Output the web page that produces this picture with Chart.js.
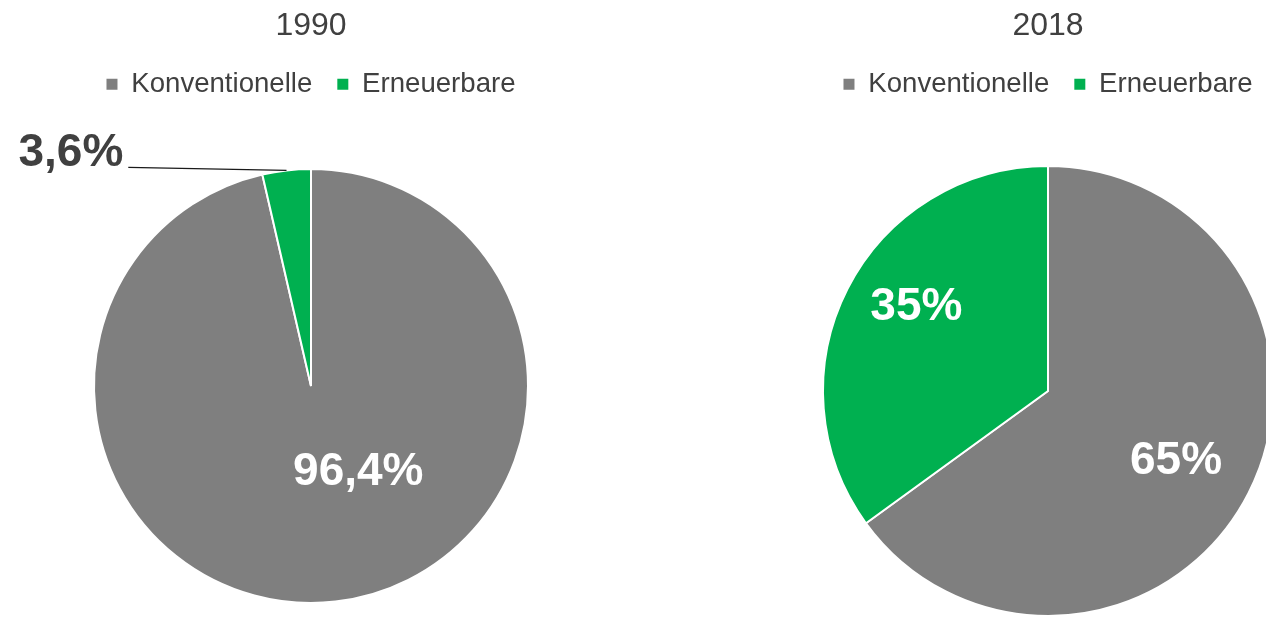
<!DOCTYPE html>
<html lang="de">
<head>
  <meta charset="UTF-8"/>
  <title>Stromerzeugung 1990 / 2018</title>
  <script src="https://cdn.jsdelivr.net/npm/chart.js"></script>
  <style>
    html, body {
      margin: 0;
      padding: 0;
      background: #fff;
      overflow: hidden;
    }
    .bühne {
      position: relative;
      width: 1266px;
      height: 618px;
      overflow: hidden;
    }
    canvas {
      position: absolute;
      top: 0;
    }
    #chart1990 { left: 0; width: 622px; height: 664px; }
    #chart2018 { left: 622px; width: 852px; height: 674px; }
  </style>
</head>
<body>
  <div class="bühne">
    <canvas id="chart1990" width="622" height="664"></canvas>
    <canvas id="chart2018" width="852" height="674"></canvas>
  </div>

  <script>
    // Daten
    const kategorien = ["Konventionelle", "Erneuerbare"];
    const jahre      = ["1990", "2018"];
    const werte1990  = [96.4, 3.6];
    const werte2018  = [65, 35];

    const farben    = ["#7f7f7f", "#00b050"];
    const textFarbe = "#404040";
    const schrift   = "'Liberation Sans', Arial, sans-serif";

    // Lage der Beschriftungen, relativ zum Kreismittelpunkt in Radien
    const lage1990 = [
      { dx: 0.218, dy: 0.398, farbe: "#fff", align: "center" },
      { dx: -0.865, dy: -1.074, farbe: textFarbe, align: "right", linie: true }
    ];
    const lage2018 = [
      { dx: 0.569, dy: 0.314, farbe: "#fff", align: "center" },
      { dx: -0.585, dy: -0.373, farbe: "#fff", align: "center" }
    ];

    const formatProzent = v => String(v).replace(".", ",") + "%";

    const beschriftung = {
      id: "beschriftung",
      afterDatasetsDraw(chart, args, opts) {
        const ctx = chart.ctx;
        const meta = chart.getDatasetMeta(0);
        const werte = chart.data.datasets[0].data;
        ctx.save();
        ctx.font = "bold 46px " + schrift;
        ctx.textBaseline = "middle";
        meta.data.forEach((arc, i) => {
          const l = opts.lage[i];
          const r = arc.outerRadius;
          const x = arc.x + l.dx * r;
          const y = arc.y + l.dy * r;
          ctx.fillStyle = l.farbe;
          ctx.textAlign = l.align;
          ctx.fillText(formatProzent(werte[i]), x, y);
          if (l.linie) {
            // Führungslinie vom Text zum Kreisrand
            const mitte = (arc.startAngle + arc.endAngle) / 2;
            ctx.beginPath();
            ctx.strokeStyle = "#1a1a1a";
            ctx.lineWidth = 1.3;
            ctx.moveTo(x + 5, y + 14.5);
            ctx.lineTo(arc.x + Math.cos(mitte) * r, arc.y + Math.sin(mitte) * r);
            ctx.stroke();
          }
        });
        ctx.restore();
      }
    };

    function tortenDiagramm(id, jahr, werte, radius, lage) {
      return new Chart(document.getElementById(id), {
        type: "pie",
        data: {
          labels: kategorien,
          datasets: [{
            data: werte,
            backgroundColor: farben,
            borderColor: "#fff",
            borderWidth: 2,
            radius: radius
          }]
        },
        options: {
          responsive: false,
          animation: false,
          events: [],
          layout: { padding: 0 },
          plugins: {
            title: {
              display: true,
              text: jahr,
              color: textFarbe,
              font: { family: schrift, size: 32, weight: "normal", lineHeight: 1.2 },
              padding: { top: 7, bottom: 0 }
            },
            legend: {
              display: true,
              position: "top",
              labels: {
                color: textFarbe,
                font: { family: schrift, size: 27.6 },
                usePointStyle: true,
                pointStyle: "rect",
                boxWidth: 11,
                boxHeight: 11,
                padding: 25,
                generateLabels(chart) {
                  return Chart.overrides.pie.plugins.legend.labels
                    .generateLabels(chart)
                    .map(item => Object.assign(item, { lineWidth: 0 }));
                }
              }
            },
            tooltip: { enabled: false },
            beschriftung: { lage: lage }
          }
        },
        plugins: [beschriftung]
      });
    }

    tortenDiagramm("chart1990", jahre[0], werte1990, 217, lage1990);
    tortenDiagramm("chart2018", jahre[1], werte2018, 225, lage2018);
  </script>
</body>
</html>
